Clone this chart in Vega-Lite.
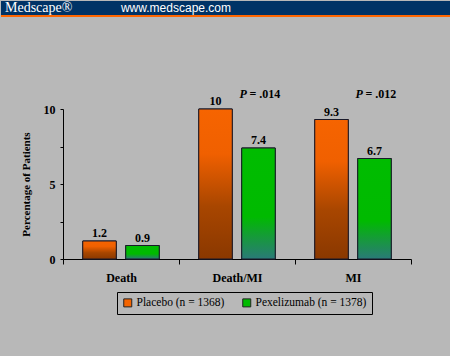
{
  "$schema": "https://vega.github.io/schema/vega-lite/v6.json",
  "background": "#b8b8b8",
  "padding": {"left": 0, "top": 0, "right": 0, "bottom": 44},
  "autosize": {"type": "pad"},
  "config": {"view": {"stroke": null}, "font": "Liberation Serif"},
  "datasets": {
    "main": [
      {"outcome": "Death", "group": "Placebo (n = 1368)", "pct": 1.2, "p": ""},
      {"outcome": "Death", "group": "Pexelizumab (n = 1378)", "pct": 0.9, "p": ""},
      {"outcome": "Death/MI", "group": "Placebo (n = 1368)", "pct": 10, "p": ""},
      {"outcome": "Death/MI", "group": "Pexelizumab (n = 1378)", "pct": 7.4, "p": "= .014"},
      {"outcome": "MI", "group": "Placebo (n = 1368)", "pct": 9.3, "p": ""},
      {"outcome": "MI", "group": "Pexelizumab (n = 1378)", "pct": 6.7, "p": "= .012"}
    ],
    "header": [{"label": "Medscape®"}, {"label": "www.medscape.com"}],
    "empty": []
  },
  "spacing": 71,
  "vconcat": [
    {
      "width": 450,
      "height": 15,
      "view": {"fill": "#003366", "stroke": null},
      "data": {"name": "header"},
      "layer": [
        {
          "mark": {"type": "rule", "color": "#ff6600", "strokeWidth": 2},
          "encoding": {"y": {"datum": 0, "type": "quantitative", "scale": {"domain": [0, 1]}, "axis": null}}
        },
        {
          "transform": [{"filter": "datum.label === 'Medscape®'"}],
          "mark": {"type": "text", "align": "left", "baseline": "middle", "dx": 4, "dy": -1, "font": "Liberation Serif", "fontSize": 14, "color": "white"},
          "encoding": {
            "x": {"field": "label", "type": "nominal", "bandPosition": 0, "scale": {"type": "band", "domain": ["Medscape®", "www.medscape.com"], "paddingInner": 0, "paddingOuter": 0}, "axis": null},
            "y": {"datum": 0.5, "type": "quantitative", "axis": null},
            "text": {"field": "label"}
          }
        },
        {
          "transform": [{"filter": "datum.label !== 'Medscape®'"}],
          "mark": {"type": "text", "align": "right", "baseline": "middle", "dx": 5, "dy": -1, "font": "Liberation Sans", "fontSize": 12, "color": "white"},
          "encoding": {
            "x": {"field": "label", "type": "nominal", "bandPosition": 0, "scale": {"type": "band", "domain": ["Medscape®", "www.medscape.com"], "paddingInner": 0, "paddingOuter": 0}, "axis": null},
            "y": {"datum": 0.5, "type": "quantitative", "axis": null},
            "text": {"field": "label"}
          }
        }
      ]
    },
    {
      "spacing": 18,
      "hconcat": [
        {
          "width": 1,
          "height": 1,
          "data": {"name": "empty"},
          "mark": "text",
          "encoding": {}
        },
        {
          "width": 348,
          "height": 150,
          "data": {"name": "main"},
          "encoding": {
            "x": {
              "field": "outcome", "type": "nominal", "sort": ["Death", "Death/MI", "MI"],
              "scale": {"type": "band", "paddingInner": 0, "paddingOuter": 0},
              "axis": {"title": null, "labelAngle": 0, "tickBand": "extent", "domainColor": "#000", "tickColor": "#000", "tickSize": 5, "labelFont": "Liberation Serif", "labelFontWeight": "bold", "labelFontSize": 12, "labelColor": "#000", "labelPadding": 8}
            },
            "xOffset": {
              "field": "group", "type": "nominal", "sort": ["Placebo (n = 1368)", "Pexelizumab (n = 1378)"],
              "scale": {"paddingInner": 0.22, "paddingOuter": 0.46}
            },
            "y": {
              "field": "pct", "type": "quantitative",
              "scale": {"domain": [0, 10], "nice": false},
              "axis": {"title": "Percentage of Patients", "titleFont": "Liberation Serif", "titleFontWeight": "bold", "titleFontSize": 11, "titleColor": "#000", "titlePadding": 12, "values": [0, 2.5, 5, 7.5, 10], "labelExpr": "datum.value % 5 === 0 ? datum.value : ''", "grid": false, "domainColor": "#000", "tickColor": "#000", "tickSize": 3, "labelPadding": 5, "labelFont": "Liberation Serif", "labelFontWeight": "bold", "labelFontSize": 12, "labelColor": "#000"}
            }
          },
          "layer": [
            {
              "mark": {"type": "bar", "stroke": "#1a1a2a", "strokeWidth": 1},
              "encoding": {
                "fill": {
                  "field": "group", "type": "nominal",
                  "scale": {"domain": ["Placebo (n = 1368)", "Pexelizumab (n = 1378)"], "range": ["#f46400", "#00bb00"]},
                  "legend": {"title": null, "orient": "none", "legendX": 116, "legendY": 291, "direction": "horizontal", "symbolType": "square", "symbolSize": 64, "symbolStrokeColor": "#222", "symbolStrokeWidth": 1, "labelFont": "Liberation Serif", "labelFontSize": 11.5, "labelColor": "#000", "strokeColor": "#000", "padding": 5, "columnPadding": 15, "labelOffset": 3}
                }
              }
            },
            {
              "transform": [{"filter": "datum.group === 'Placebo (n = 1368)'"}],
              "mark": {
                "type": "bar", "stroke": "#1a1a2a", "strokeWidth": 1,
                "fill": {"gradient": "linear", "x1": 0, "y1": 0, "x2": 0, "y2": 1, "stops": [
                  {"offset": 0, "color": "#f66400"},
                  {"offset": 0.3, "color": "#f06000"},
                  {"offset": 0.65, "color": "#a84600"},
                  {"offset": 1, "color": "#8a3800"}
                ]}
              }
            },
            {
              "transform": [{"filter": "datum.group === 'Pexelizumab (n = 1378)'"}],
              "mark": {
                "type": "bar", "stroke": "#1a1a2a", "strokeWidth": 1,
                "fill": {"gradient": "linear", "x1": 0, "y1": 0, "x2": 0, "y2": 1, "stops": [
                  {"offset": 0, "color": "#00bc00"},
                  {"offset": 0.62, "color": "#00ba00"},
                  {"offset": 0.8, "color": "#169a3a"},
                  {"offset": 1, "color": "#2a7a78"}
                ]}
              }
            },
            {
              "mark": {"type": "text", "baseline": "bottom", "dy": -1, "font": "Liberation Serif", "fontSize": 12, "fontWeight": "bold", "color": "#000"},
              "encoding": {"text": {"field": "pct", "type": "quantitative", "format": ".1~f"}}
            },
            {
              "transform": [{"filter": "datum.p !== ''"}],
              "mark": {"type": "text", "align": "left", "baseline": "alphabetic", "dx": -19, "dy": -11, "font": "Liberation Serif", "fontSize": 12, "fontWeight": "bold", "fontStyle": "italic", "color": "#000"},
              "encoding": {"y": {"datum": 10, "type": "quantitative"}, "text": {"value": "P"}}
            },
            {
              "transform": [{"filter": "datum.p !== ''"}],
              "mark": {"type": "text", "align": "left", "baseline": "alphabetic", "dx": -9, "dy": -11, "font": "Liberation Serif", "fontSize": 12, "fontWeight": "bold", "color": "#000"},
              "encoding": {"y": {"datum": 10, "type": "quantitative"}, "text": {"field": "p"}}
            }
          ]
        }
      ]
    }
  ]
}
